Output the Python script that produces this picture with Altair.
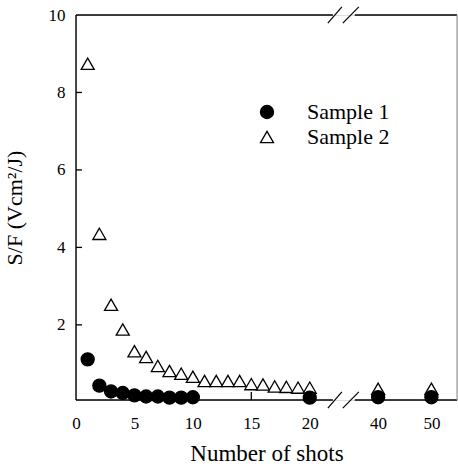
import altair as alt
import pandas as pd

# ---------------- data ----------------
series_names = ["Sample 1", "Sample 2"]

shots_s1 = [1, 2, 3, 4, 5, 6, 7, 8, 9, 10, 20, 40, 50]
sf_s1 = [1.11, 0.43, 0.28, 0.24, 0.18, 0.15, 0.15, 0.12, 0.12, 0.13, 0.12, 0.13, 0.13]

shots_s2 = [1, 2, 3, 4, 5, 6, 7, 8, 9, 10, 11, 12, 13, 14, 15, 16, 17, 18, 19, 20, 40, 50]
sf_s2 = [8.74, 4.35, 2.52, 1.88, 1.32, 1.17, 0.94, 0.81, 0.74, 0.66, 0.55, 0.55,
         0.55, 0.55, 0.47, 0.46, 0.41, 0.40, 0.38, 0.38, 0.35, 0.35]

x_tick_labels = [0, 5, 10, 15, 20, 40, 50]
y_tick_values = [2, 4, 6, 8, 10]

# ---------------- broken x axis mapping ----------------
SEG1_END = 20          # linear part 0..20
SEG2_ORIGIN = 40       # second part starts at 40
SEG2_POS = 25.85       # where 40 sits on the position scale
SEG2_SCALE = 0.456     # compression of the second part
X_MAX = 32.6
Y_MIN, Y_MAX = 0.06, 10
GAP_LO, GAP_HI = 21.98, 23.85


def pos(s):
    return s if s <= SEG1_END else SEG2_POS + (s - SEG2_ORIGIN) * SEG2_SCALE


pos_expr = (f"datum.shots <= {SEG1_END} ? datum.shots : "
            f"{SEG2_POS} + (datum.shots - {SEG2_ORIGIN}) * {SEG2_SCALE}")

# Sample 2 first so that the filled circles sit on top
points = pd.concat([
    pd.DataFrame({"shots": shots_s2, "sf": sf_s2, "series": series_names[1]}),
    pd.DataFrame({"shots": shots_s1, "sf": sf_s1, "series": series_names[0]}),
], ignore_index=True)

W, H = 381, 385
FONT = "'Liberation Serif', 'Times New Roman', 'DejaVu Serif', serif"

xscale = alt.Scale(domain=[0, X_MAX], nice=False, zero=False)
yscale = alt.Scale(domain=[Y_MIN, Y_MAX], nice=False, zero=False)

tick_positions = [pos(v) for v in x_tick_labels]
label_expr = ("datum.value > 28 ? '50' : datum.value > 25 ? '40' : "
              "format(datum.value, 'd')")

legend = alt.Legend(
    title=None, orient="none", legendX=180, legendY=86, padding=0,
    labelFont=FONT, labelFontSize=22, labelColor="black", labelOffset=29,
    symbolSize=170, symbolStrokeColor="black", symbolStrokeWidth=1.3,
    rowPadding=3,
)

pts = alt.Chart(points).transform_calculate(xpos=pos_expr).mark_point(
    filled=True, size=170, strokeWidth=1.3, opacity=1
).encode(
    x=alt.X("xpos:Q", scale=xscale, axis=alt.Axis(
        values=tick_positions, labelExpr=label_expr, title="Number of shots",
        labelPadding=15, titlePadding=11, labelFlush=False, titleFontSize=23)),
    y=alt.Y("sf:Q", scale=yscale, axis=alt.Axis(
        values=y_tick_values, format="d", title="S/F (Vcm²/J)",
        labelPadding=11, titlePadding=22, labelFlush=False)),
    shape=alt.Shape("series:N", scale=alt.Scale(domain=series_names,
                    range=["circle", "triangle-up"]), legend=legend),
    fill=alt.Fill("series:N", scale=alt.Scale(domain=series_names,
                  range=["black", "white"]), legend=legend),
    stroke=alt.Stroke("series:N", scale=alt.Scale(domain=series_names,
                      range=["black", "black"]), legend=legend),
)

# frame (with gaps for the axis break)
frame_h = pd.DataFrame({"x": [0, GAP_HI, 0, GAP_HI],
                        "x2": [GAP_LO, X_MAX, GAP_LO, X_MAX],
                        "y": [Y_MAX, Y_MAX, Y_MIN, Y_MIN]})
frame_l = pd.DataFrame({"x": [0], "y": [Y_MIN], "y2": [Y_MAX]})
frame_r = pd.DataFrame({"x": [X_MAX], "y": [Y_MIN], "y2": [Y_MAX]})

hrule = alt.Chart(frame_h).mark_rule(color="black", strokeWidth=1.4).encode(
    x=alt.X("x:Q", scale=xscale), x2="x2:Q",
    y=alt.Y("y:Q", scale=yscale))
lrule = alt.Chart(frame_l).mark_rule(color="black", strokeWidth=1.4).encode(
    x=alt.X("x:Q", scale=xscale),
    y=alt.Y("y:Q", scale=yscale), y2="y2:Q")
rrule = alt.Chart(frame_r).mark_rule(color="#888888", strokeWidth=1).encode(
    x=alt.X("x:Q", scale=xscale),
    y=alt.Y("y:Q", scale=yscale), y2="y2:Q")

# break slashes
dy = 0.21
slashes = pd.DataFrame({
    "x": [21.55, 22.83, 21.55, 22.83],
    "x2": [22.75, 24.2, 22.75, 24.2],
    "y": [Y_MAX - dy, Y_MAX - dy, Y_MIN - dy, Y_MIN - dy],
    "y2": [Y_MAX + dy, Y_MAX + dy, Y_MIN + dy, Y_MIN + dy],
})
slash = alt.Chart(slashes).mark_rule(color="black", strokeWidth=1.2).encode(
    x=alt.X("x:Q", scale=xscale), x2="x2:Q",
    y=alt.Y("y:Q", scale=yscale), y2="y2:Q")

# inward ticks
ytick_df = pd.DataFrame({"y": y_tick_values[:-1]})
ytk = alt.Chart(ytick_df).mark_rule(color="black", strokeWidth=1.3).encode(
    y=alt.Y("y:Q", scale=yscale),
    x=alt.value(0), x2=alt.value(6))
xtick_df = pd.DataFrame({"x": tick_positions[1:]})
xtk = alt.Chart(xtick_df).mark_rule(color="black", strokeWidth=1.3).encode(
    x=alt.X("x:Q", scale=xscale),
    y=alt.value(H), y2=alt.value(H - 8))

chart = alt.layer(pts, hrule, lrule, rrule, slash, ytk, xtk).properties(
    width=W, height=H,
    autosize=alt.AutoSizeParams(type="none"),
    padding={"left": 76, "top": 15, "right": 1, "bottom": 66},
    background="white",
).configure_view(stroke=None).configure(font=FONT).configure_axis(
    grid=False, domain=False, ticks=False,
    labelFont=FONT, labelFontSize=17, labelColor="black",
    titleFont=FONT, titleFontSize=22, titleFontWeight="normal", titleColor="black",
).configure_legend(labelFont=FONT)

chart.save("out.html", embed_options={"renderer": "svg", "actions": False})
